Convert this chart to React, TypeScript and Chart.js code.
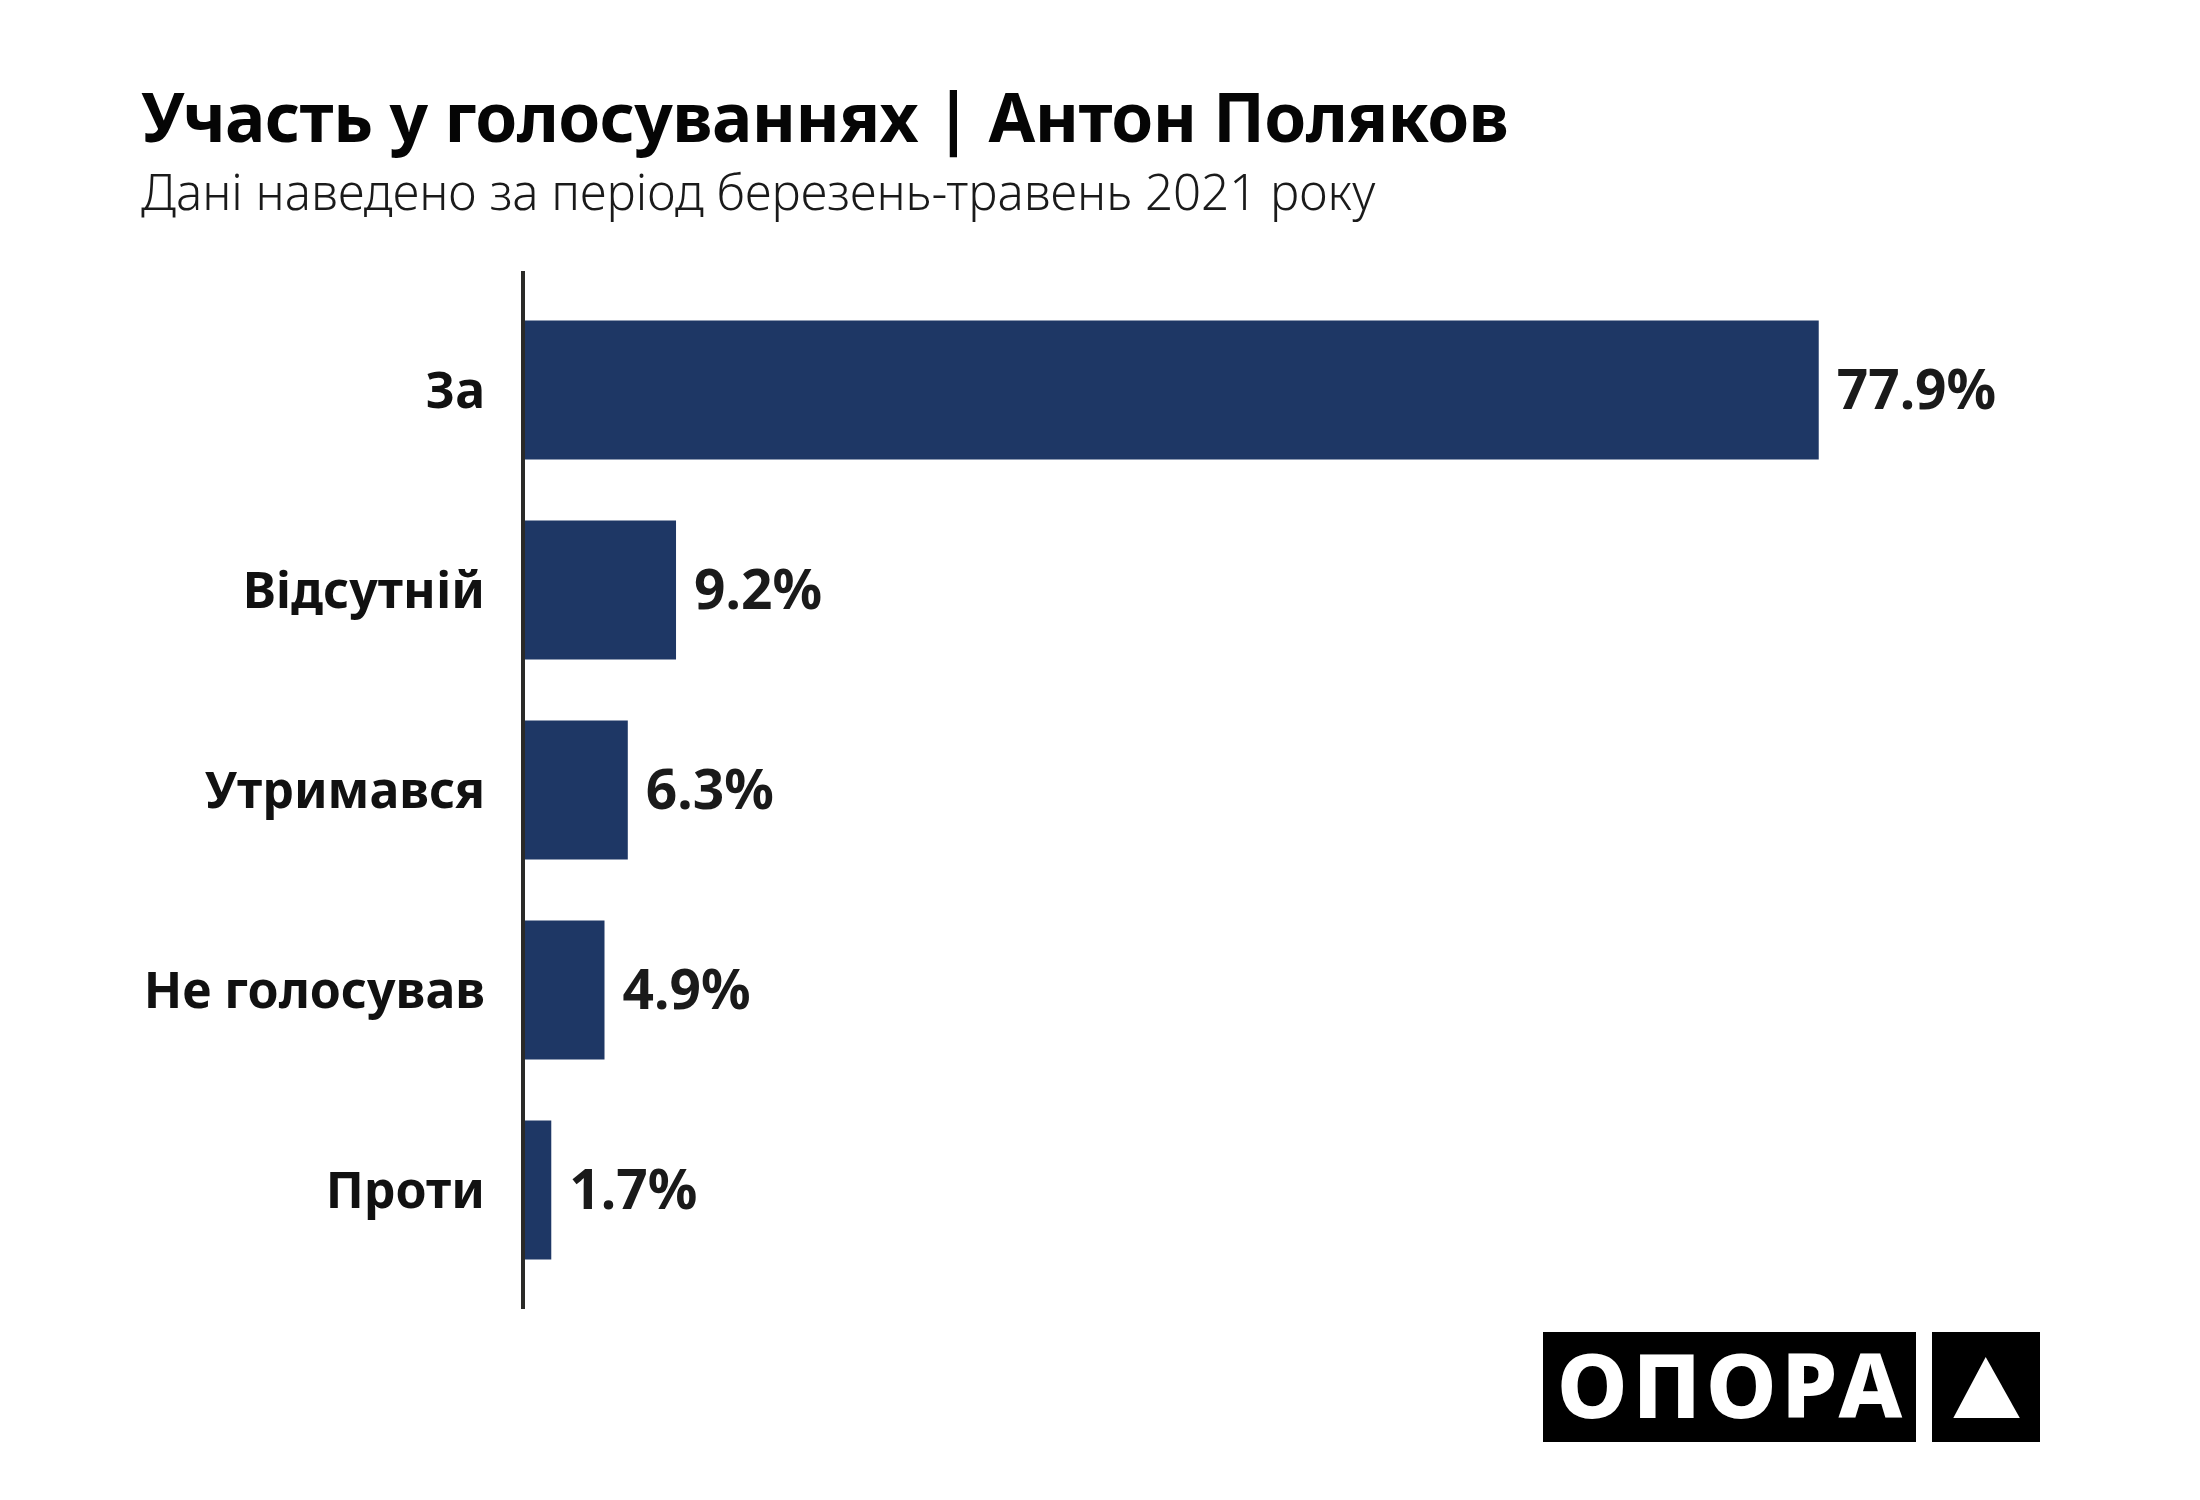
import React, { useEffect, useRef } from "react";
import { Chart, registerables } from "chart.js";

Chart.register(...registerables);

const categories = ["За", "Відсутній", "Утримався", "Не голосував", "Проти"];
const values = [77.9, 9.2, 6.3, 4.9, 1.7];
const valueLabels = ["77.9%", "9.2%", "6.3%", "4.9%", "1.7%"];
const titleText = "Участь у голосуваннях | Антон Поляков";
const subtitleText = "Дані наведено за період березень-травень 2021 року";
const logoText = "ОПОРА";

const BAR_COLOR = "#1e3765";
const FONT = "'Noto Sans', 'Open Sans', sans-serif";

const axisLinePlugin = {
  id: "axisLine",
  afterDatasetsDraw(chart: any) {
    const { ctx, chartArea, scales } = chart;
    const x = scales.x.getPixelForValue(0);
    ctx.save();
    ctx.strokeStyle = "#2a2a28";
    ctx.lineWidth = 4;
    ctx.beginPath();
    ctx.moveTo(x, chartArea.top - 19);
    ctx.lineTo(x, chartArea.bottom + 19);
    ctx.stroke();
    ctx.restore();
  },
};

const valueLabelPlugin = {
  id: "valueLabels",
  afterDatasetsDraw(chart: any) {
    const { ctx } = chart;
    const meta = chart.getDatasetMeta(0);
    ctx.save();
    ctx.fillStyle = "#1a1a1a";
    ctx.font = `bold 55px ${FONT}`;
    ctx.textAlign = "left";
    ctx.textBaseline = "middle";
    meta.data.forEach((bar: any, i: number) => {
      ctx.fillText(valueLabels[i], bar.x + 18, bar.y + 3);
    });
    ctx.restore();
  },
};

function BarChart() {
  const ref = useRef<HTMLCanvasElement | null>(null);
  useEffect(() => {
    if (!ref.current) return;
    const chart = new Chart(ref.current, {
      type: "bar",
      data: {
        labels: categories,
        datasets: [
          {
            data: values,
            backgroundColor: BAR_COLOR,
            borderWidth: 0,
            barPercentage: 0.695,
            categoryPercentage: 1,
          },
        ],
      },
      options: {
        indexAxis: "y",
        animation: false,
        responsive: false,
        devicePixelRatio: 1,
        layout: { padding: { top: 290, bottom: 210, right: 180, left: 0 } },
        plugins: {
          legend: { display: false },
          tooltip: { enabled: false },
          title: { display: false },
        },
        scales: {
          x: {
            display: false,
            min: 0,
            max: 90,
          },
          y: {
            grid: { display: false, drawTicks: false },
            border: { display: false },
            ticks: {
              color: "#111111",
              padding: 38,
              labelOffset: 4,
              font: { family: FONT, weight: "bold", size: 50 },
            },
            afterFit(scale: any) {
              scale.width = 523;
            },
          },
        },
      },
      plugins: [axisLinePlugin, valueLabelPlugin],
    });
    return () => chart.destroy();
  }, []);
  return (
    <canvas
      ref={ref}
      width={2200}
      height={1500}
      style={{ position: "absolute", left: 0, top: 0, width: 2200, height: 1500 }}
    />
  );
}

export default function App() {
  return (
    <div
      style={{
        position: "absolute",
        left: 0,
        top: 0,
        width: 2200,
        height: 1500,
        background: "#ffffff",
        overflow: "hidden",
      }}
    >
      <BarChart />
      <div
        style={{
          position: "absolute",
          left: 141,
          top: 71,
          fontFamily: FONT,
          fontWeight: 700,
          fontSize: 67.6,
          lineHeight: "90px",
          color: "#050505",
          whiteSpace: "nowrap",
          letterSpacing: -0.6,
        }}
      >
        {titleText}
      </div>
      <div
        style={{
          position: "absolute",
          left: 141,
          top: 159,
          fontFamily: FONT,
          fontWeight: 300,
          fontSize: 49.2,
          lineHeight: "64px",
          color: "#1a1a1a",
          whiteSpace: "nowrap",
        }}
      >
        {subtitleText}
      </div>
      <div
        style={{
          position: "absolute",
          left: 1543,
          top: 1332,
          width: 373,
          height: 110,
          background: "#000000",
          color: "#ffffff",
          fontFamily: FONT,
          fontWeight: 800,
          fontSize: 90,
          lineHeight: "110px",
          letterSpacing: 5,
          whiteSpace: "nowrap",
          overflow: "hidden",
        }}
      >
        <span style={{ position: "relative", left: 14, top: -4 }}>{logoText}</span>
      </div>
      <div
        style={{
          position: "absolute",
          left: 1932,
          top: 1332,
          width: 108,
          height: 110,
          background: "#000000",
        }}
      >
        <svg width="108" height="110" viewBox="0 0 108 110" style={{ display: "block" }}>
          <polygon points="53.7,25 87.8,86 21.3,86" fill="#ffffff" />
        </svg>
      </div>
    </div>
  );
}
